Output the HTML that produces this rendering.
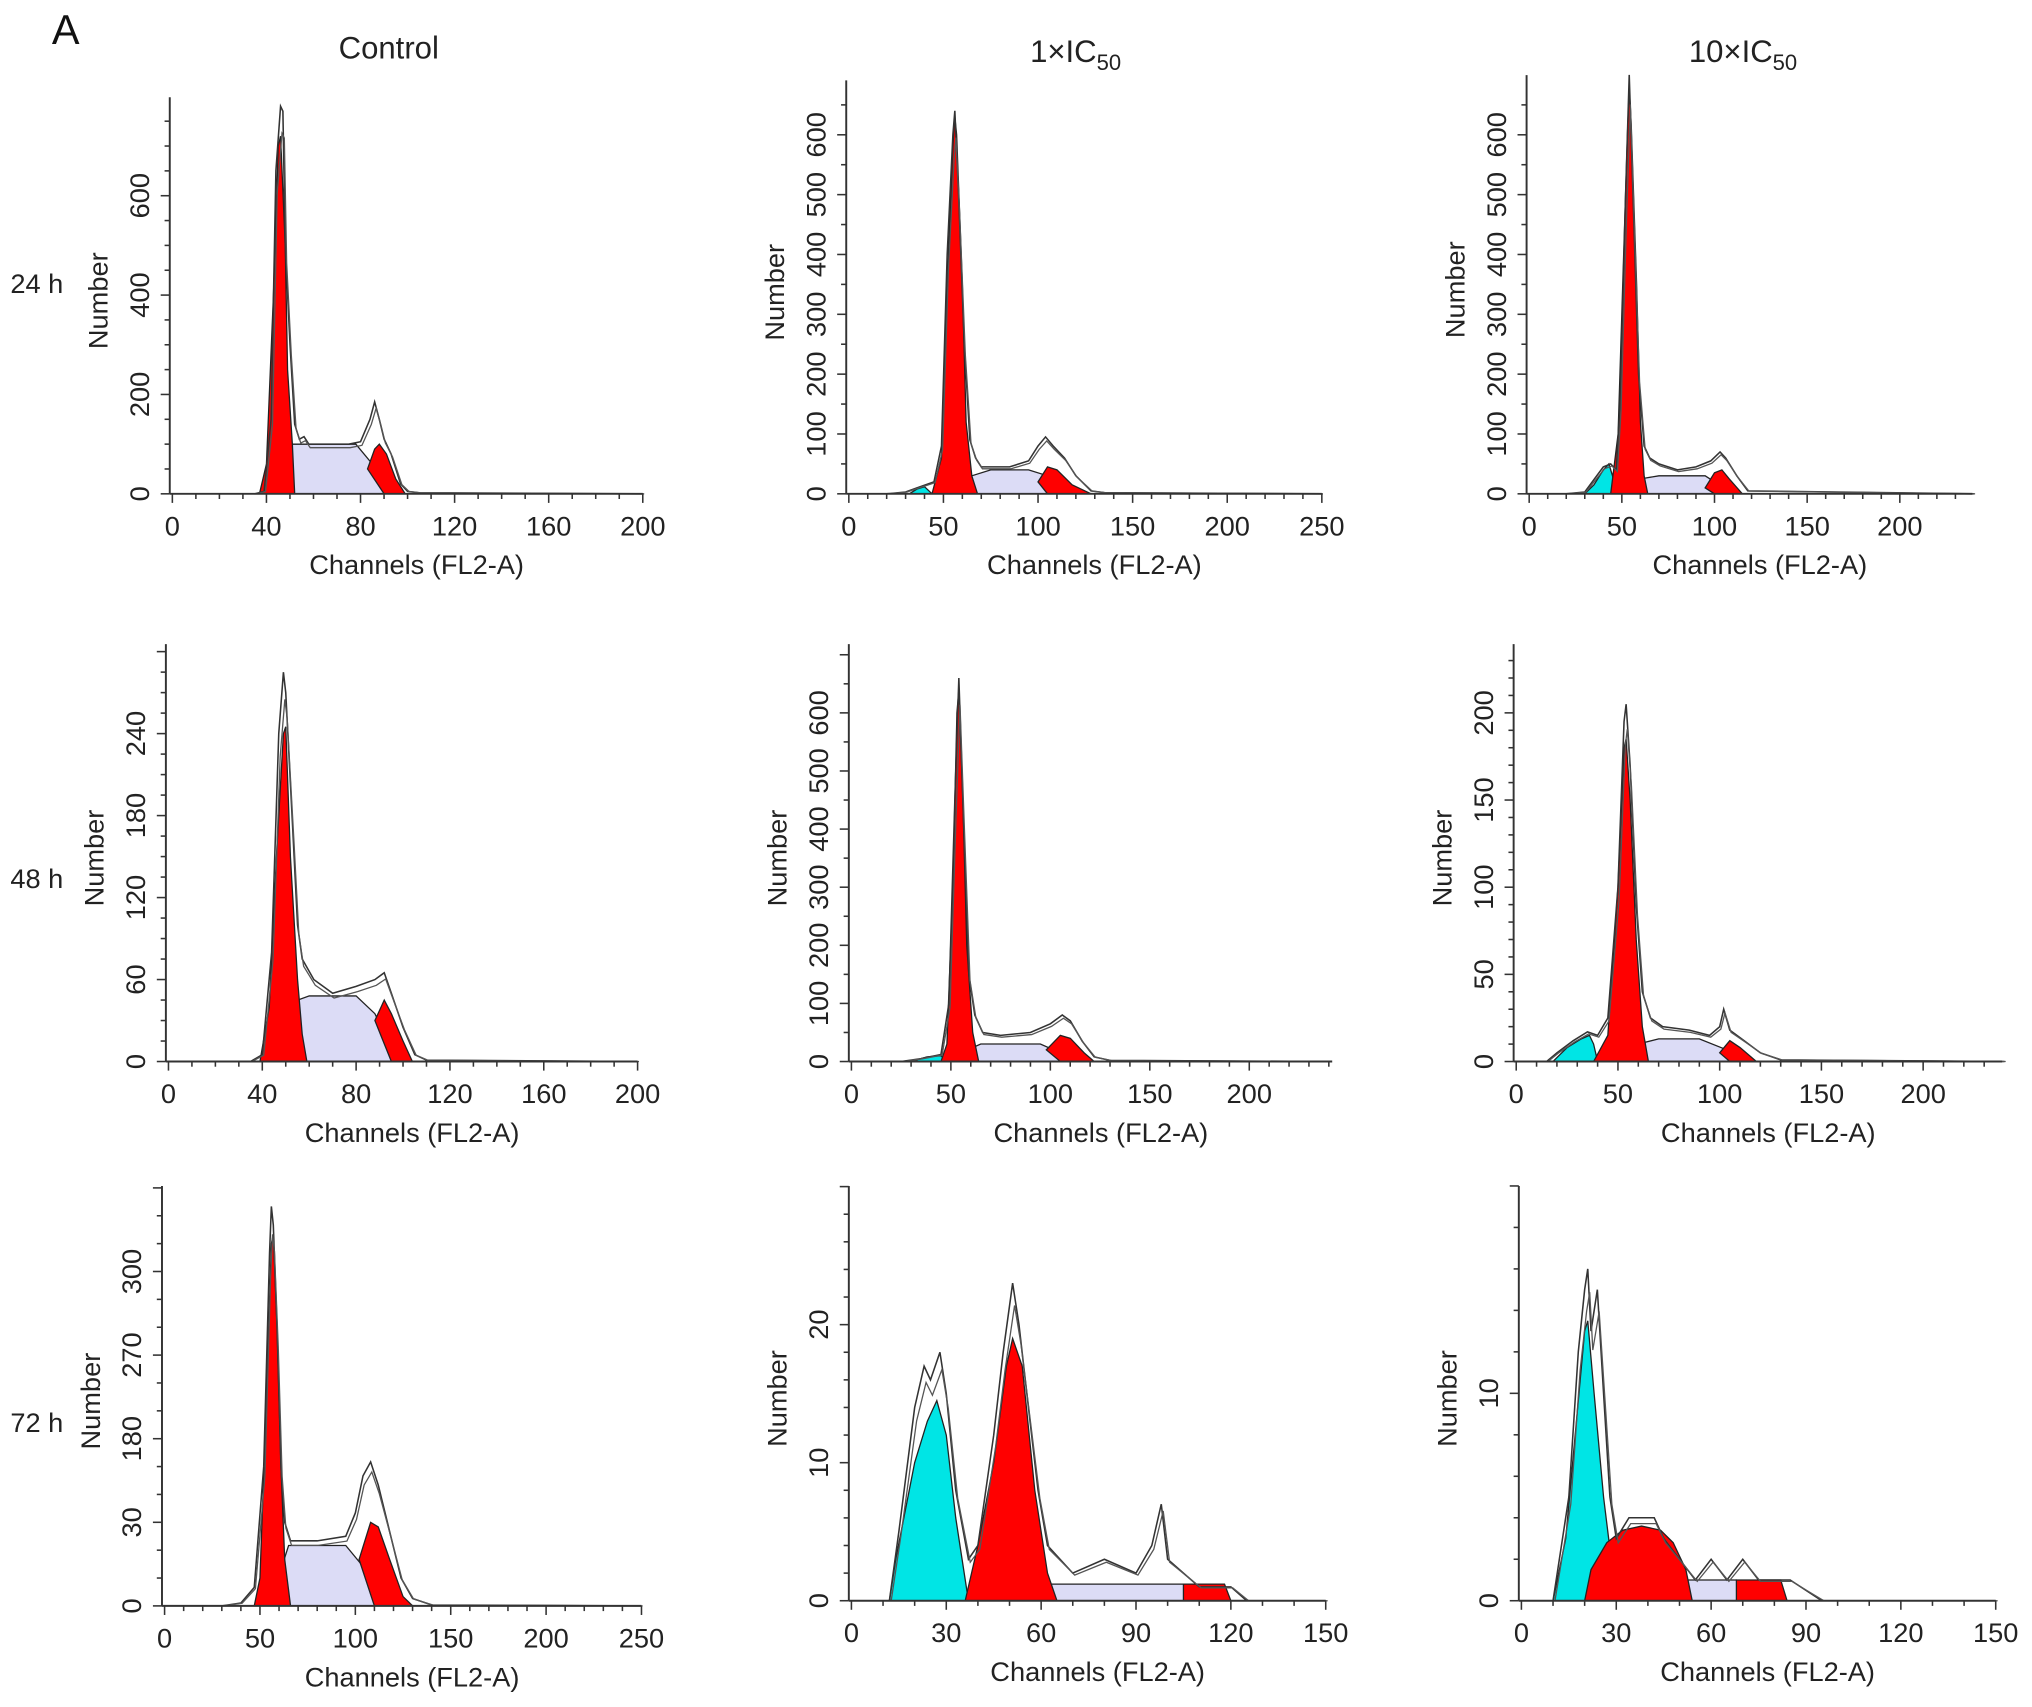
<!DOCTYPE html>
<html><head><meta charset="utf-8"><style>
html,body{margin:0;padding:0;background:#fff;}
svg{display:block;font-family:"Liberation Sans",Arial,sans-serif;}
</style></head><body>
<svg id="fig" width="2032" height="1707" viewBox="0 0 1568 1317" preserveAspectRatio="none" xmlns="http://www.w3.org/2000/svg">
<text x="40" y="34" font-size="32" fill="#111">A</text>
<text x="300" y="45" font-size="24" text-anchor="middle" fill="#222">Control</text>
<text x="830" y="48" font-size="24" text-anchor="middle" fill="#222">1×IC<tspan font-size="17" dy="6">50</tspan></text>
<text x="1345" y="48" font-size="24" text-anchor="middle" fill="#222">10×IC<tspan font-size="17" dy="6">50</tspan></text>
<text x="8" y="226" font-size="21" fill="#222">24 h</text>
<text x="8" y="685" font-size="21" fill="#222">48 h</text>
<text x="8" y="1105" font-size="21" fill="#222">72 h</text>
</svg>
<script>
// ---- data (channel, count) ----
const p11_outline=[[35,0],[39,5],[42,150],[44,650],[46,780],[47,770],[48,500],[50,300],[52,140],[54,110],[56,115],[58,100],[65,100],[75,100],[80,105],[84,150],[86,185],[88,150],[90,110],[93,80],[97,20],[100,5],[105,2],[200,0]];
const p11_cyan=[];
const p11_g1=[[37,0],[40,60],[43,400],[45,700],[46,720],[48,500],[49,250],[51,100],[52,0]];
const p11_s=[[40,0],[45,40],[51,100],[78,100],[85,60],[91,20],[96,0]];
const p11_g2=[[83,50],[86,90],[88,100],[91,80],[95,30],[99,0],[90,0]];

const p12_outline=[[20,0],[30,3],[36,10],[45,20],[49,80],[52,400],[55,600],[56,640],[58,500],[61,250],[64,90],[67,60],[70,45],[85,45],[95,55],[100,80],[104,95],[108,80],[114,60],[120,30],[128,5],[135,2],[250,0]];
const p12_cyan=[[32,0],[36,8],[40,12],[44,0]];
const p12_g1=[[44,0],[49,60],[52,350],[55,580],[56,630],[57,600],[60,350],[62,120],[65,30],[68,0]];
const p12_s=[[45,0],[55,10],[65,30],[75,40],[95,40],[105,30],[115,10],[125,0]];
const p12_g2=[[100,20],[105,45],[110,40],[118,15],[128,0],[105,0]];

const p13_outline=[[20,0],[30,3],[40,45],[44,50],[47,40],[49,150],[52,500],[54,700],[56,500],[59,200],[62,80],[65,60],[70,50],[80,40],[90,45],[98,55],[103,70],[106,60],[112,30],[118,5],[240,0]];
const p13_cyan=[[30,0],[35,15],[40,40],[43,50],[45,30],[47,0]];
const p13_g1=[[44,0],[48,100],[51,400],[53,600],[54,680],[55,620],[58,350],[60,120],[62,30],[64,0]];
const p13_s=[[55,0],[60,25],[70,30],[95,30],[105,10],[110,0]];
const p13_g2=[[95,10],[100,35],[104,40],[108,25],[115,0],[100,0]];

const p21_outline=[[35,0],[40,5],[44,80],[47,240],[49,285],[50,270],[53,170],[55,100],[57,75],[62,60],[70,50],[80,55],[88,60],[92,65],[95,50],[100,25],[105,5],[110,1],[200,0]];
const p21_cyan=[];
const p21_g1=[[39,0],[43,40],[46,150],[49,240],[50,245],[52,150],[55,60],[57,20],[59,0]];
const p21_s=[[42,0],[48,20],[55,45],[60,48],[80,48],[88,35],[95,10],[100,0]];
const p21_g2=[[88,30],[92,45],[95,35],[100,15],[104,0],[95,0]];

const p22_outline=[[25,0],[35,5],[45,12],[49,100],[52,450],[54,660],[56,450],[59,150],[62,80],[66,50],[75,45],[90,50],[100,65],[106,80],[110,70],[116,35],[122,8],[130,2],[240,0]];
const p22_cyan=[[30,0],[38,8],[45,10],[48,0]];
const p22_g1=[[45,0],[48,30],[51,300],[53,600],[54,640],[56,450],[58,200],[61,50],[64,0]];
const p22_s=[[50,0],[55,15],[65,30],[95,30],[105,15],[115,0]];
const p22_g2=[[98,20],[105,45],[110,40],[117,15],[122,0],[105,0]];

const p23_outline=[[15,0],[20,5],[28,12],[35,17],[40,15],[45,25],[50,100],[53,195],[54,205],[56,170],[59,90],[62,40],[66,25],[72,20],[85,18],[95,15],[100,20],[102,30],[105,18],[112,12],[120,5],[130,1],[240,0]];
const p23_cyan=[[18,0],[25,8],[32,13],[36,15],[38,10],[40,0]];
const p23_g1=[[38,0],[45,15],[50,100],[53,180],[54,185],[56,150],[59,70],[62,20],[65,0]];
const p23_s=[[45,0],[60,10],[70,13],[90,13],[105,6],[115,0]];
const p23_g2=[[100,5],[105,12],[110,8],[118,0],[105,0]];

const p31_outline=[[30,0],[40,3],[47,20],[52,150],[55,380],[56,430],[57,410],[59,300],[61,150],[63,90],[66,70],[80,70],[95,75],[100,100],[104,140],[108,155],[112,130],[118,80],[124,30],[130,8],[140,1],[250,0]];
const p31_cyan=[];
const p31_g1=[[47,0],[50,30],[53,200],[56,390],[57,400],[59,300],[61,150],[63,50],[66,0]];
const p31_s=[[52,0],[58,20],[65,65],[95,65],[105,40],[115,10],[120,0]];
const p31_g2=[[102,50],[108,90],[112,85],[118,50],[125,10],[130,0],[110,0]];

const p32_outline=[[12,0],[15,5],[20,14],[23,17],[25,16],[28,18],[30,15],[33,8],[37,3],[40,4],[45,12],[48,18],[51,23],[53,20],[56,14],[59,8],[62,4],[66,3],[70,2],[80,3],[90,2],[95,4],[98,7],[100,3],[105,2],[110,1],[120,1],[125,0],[150,0]];
const p32_cyan=[[12,0],[14,3],[20,10],[24,13],[27,14.5],[30,12],[33,6],[37,0]];
const p32_g1=[[36,0],[40,4],[45,10],[49,17],[51,19],[54,17],[58,8],[62,2],[65,0]];
const p32_s=[[49,0],[50,1.2],[108,1.2],[110,0]];
const p32_g2=[[105,0],[105,1.2],[118,1.2],[120,0]];

const p33_outline=[[10,0],[15,5],[18,12],[20,15],[21,16],[22,13],[24,15],[26,10],[28,5],[30,3],[34,4],[38,4],[42,4],[45,3],[50,2],[55,1],[60,2],[65,1],[70,2],[75,1],[80,1],[85,1],[90,0.5],[95,0],[150,0]];
const p33_cyan=[[10,0],[14,3],[17,8],[20,13],[21,13.5],[23,10],[26,5],[30,0]];
const p33_g1=[[20,0],[22,1.5],[27,2.8],[32,3.4],[38,3.6],[44,3.4],[48,2.8],[52,1.5],[54,0]];
const p33_s=[[40,0],[40,1],[68,1],[70,0]];
const p33_g2=[[68,0],[68,1],[82,1],[84,0]];

// tick values / labels
const p11_xt=[0,40,80,120,160,200], p11_yt=[0,200,400,600], p11_yl=['0','200','400','600'];
const p12_xt=[0,50,100,150,200,250], p12_yt=[0,100,200,300,400,500,600], p12_yl=['0','100','200','300','400','500','600'];
const p13_xt=[0,50,100,150,200], p13_yt=[0,100,200,300,400,500,600], p13_yl=['0','100','200','300','400','500','600'];
const p21_xt=[0,40,80,120,160,200], p21_yt=[0,60,120,180,240], p21_yl=['0','60','120','180','240'];
const p22_xt=[0,50,100,150,200], p22_yt=[0,100,200,300,400,500,600], p22_yl=['0','100','200','300','400','500','600'];
const p23_xt=[0,50,100,150,200], p23_yt=[0,50,100,150,200], p23_yl=['0','50','100','150','200'];
const p31_xt=[0,50,100,150,200,250], p31_yt=[0,90,180,270,360], p31_yl=['0','30','180','270','300'];
const p32_xt=[0,30,60,90,120,150], p32_yt=[0,10,20], p32_yl=['0','10','20'];
const p33_xt=[0,30,60,90,120,150], p33_yt=[0,10], p33_yl=['0','10'];

// layout
const panels=[
 {id:'control-24h',ax:133,pxPer:363/200,xEnd:496,base:381,ky:230/600,top:75,d:[p11_outline,p11_cyan,p11_g1,p11_s,p11_g2],xt:p11_xt,yt:p11_yt,yl:p11_yl,minX:4,minY:4},
 {id:'1xic50-24h',ax:655,pxPer:365/250,xEnd:1020,base:381,ky:277/600,top:62,d:[p12_outline,p12_cyan,p12_g1,p12_s,p12_g2],xt:p12_xt,yt:p12_yt,yl:p12_yl,minX:5,minY:2},
 {id:'10xic50-24h',ax:1180,pxPer:286/200,xEnd:1522,base:381,ky:277/600,top:58,d:[p13_outline,p13_cyan,p13_g1,p13_s,p13_g2],xt:p13_xt,yt:p13_yt,yl:p13_yl,minX:5,minY:2},
 {id:'control-48h',ax:130,pxPer:362/200,xEnd:492,base:819,ky:253/240,top:497,d:[p21_outline,p21_cyan,p21_g1,p21_s,p21_g2],xt:p21_xt,yt:p21_yt,yl:p21_yl,minX:4,minY:4},
 {id:'1xic50-48h',ax:657,pxPer:307/200,xEnd:1028,base:819,ky:269/600,top:497,d:[p22_outline,p22_cyan,p22_g1,p22_s,p22_g2],xt:p22_xt,yt:p22_yt,yl:p22_yl,minX:5,minY:2},
 {id:'10xic50-48h',ax:1170,pxPer:314/200,xEnd:1545,base:819,ky:269/200,top:497,d:[p23_outline,p23_cyan,p23_g1,p23_s,p23_g2],xt:p23_xt,yt:p23_yt,yl:p23_yl,minX:5,minY:5},
 {id:'control-72h',ax:127,pxPer:368/250,xEnd:495,base:1239,ky:64.5/90,top:915,d:[p31_outline,p31_cyan,p31_g1,p31_s,p31_g2],xt:p31_xt,yt:p31_yt,yl:p31_yl,minX:5,minY:3},
 {id:'1xic50-72h',ax:657,pxPer:366/150,xEnd:1023,base:1235,ky:106.5/10,top:915,d:[p32_outline,p32_cyan,p32_g1,p32_s,p32_g2],xt:p32_xt,yt:p32_yt,yl:p32_yl,minX:3,minY:5},
 {id:'10xic50-72h',ax:1174,pxPer:366/150,xEnd:1540,base:1235,ky:160/10,top:915,d:[p33_outline,p33_cyan,p33_g1,p33_s,p33_g2],xt:p33_xt,yt:p33_yt,yl:p33_yl,minX:3,minY:5}
];
const NS='http://www.w3.org/2000/svg';
const svg=document.getElementById('fig');
function mk(tag,attrs,parent){const e=document.createElementNS(NS,tag);for(const k in attrs)e.setAttribute(k,attrs[k]);parent.appendChild(e);return e;}
panels.forEach(p=>{
 const g=mk('g',{},svg);
 
 
 const X=v=>p.ax+v*p.pxPer, Y=v=>p.base-v*p.ky;
 const pts=a=>a.map(q=>X(q[0]).toFixed(1)+','+Y(q[1]).toFixed(1)).join(' ');
 const fills=[[3,'#dcdcf6','s-phase'],[1,'#00e5e5','sub-g1'],[2,'#ff0000','g1-peak'],[4,'#ff0000','g2-peak']];
 fills.forEach(f=>{const a=p.d[f[0]]; if(!a.length)return;
  const pg=mk('polygon',{points:pts(a),fill:f[1],stroke:'#222','stroke-width':1},g);
  
  });
 const ol=mk('polyline',{points:pts(p.d[0]),fill:'none',stroke:'#333','stroke-width':1.2},g);
 
 
 const ol2=mk('polyline',{points:pts(p.d[0].map(q=>[q[0]+0.6,q[1]*0.93])),fill:'none',stroke:'#555','stroke-width':1},g);
 
 
 const axX=p.ax-2;
 const ya=mk('line',{x1:axX,y1:p.top,x2:axX,y2:p.base,stroke:'#333','stroke-width':1.5},g);
 
 
 const xa=mk('line',{x1:axX,y1:p.base,x2:p.xEnd,y2:p.base,stroke:'#333','stroke-width':1.5},g);
 
 
 const xs=p.xt[1]-p.xt[0];
 for(let v=0;X(v)<=p.xEnd+0.5;v+=xs/p.minX){const major=Math.abs(v/xs-Math.round(v/xs))<1e-6;
  mk('line',{x1:X(v),y1:p.base,x2:X(v),y2:p.base+(major?7:4),stroke:'#333','stroke-width':1.2},g);}
 p.xt.forEach(v=>{const t=mk('text',{x:X(v),y:p.base+32,'font-size':21,'text-anchor':'middle',fill:'#222'},g);t.textContent=v;
  
  });
 const ys=p.yt[1]-p.yt[0];
 for(let v=0;Y(v)>=p.top;v+=ys/p.minY){const major=Math.abs(v/ys-Math.round(v/ys))<1e-6;
  mk('line',{x1:axX,y1:Y(v),x2:axX-(major?7:4),y2:Y(v),stroke:'#333','stroke-width':1.2},g);}
 p.yt.forEach((v,i)=>{const t=mk('text',{x:axX-16,y:Y(v),'font-size':21,'text-anchor':'middle',fill:'#222',transform:`rotate(-90 ${axX-16} ${Y(v)})`},g);t.textContent=p.yl[i];
  
  });
 const xt=mk('text',{x:(axX+p.xEnd)/2+8,y:p.base+62,'font-size':21,'text-anchor':'middle',fill:'#222'},g);xt.textContent='Channels (FL2-A)';
 
 
 const cy=(p.top+p.base)/2+4, cx=axX-48;
 const yt=mk('text',{x:cx,y:cy,'font-size':21,'text-anchor':'middle',fill:'#222',transform:`rotate(-90 ${cx} ${cy})`},g);yt.textContent='Number';
 
 
});
</script>
</body></html>
